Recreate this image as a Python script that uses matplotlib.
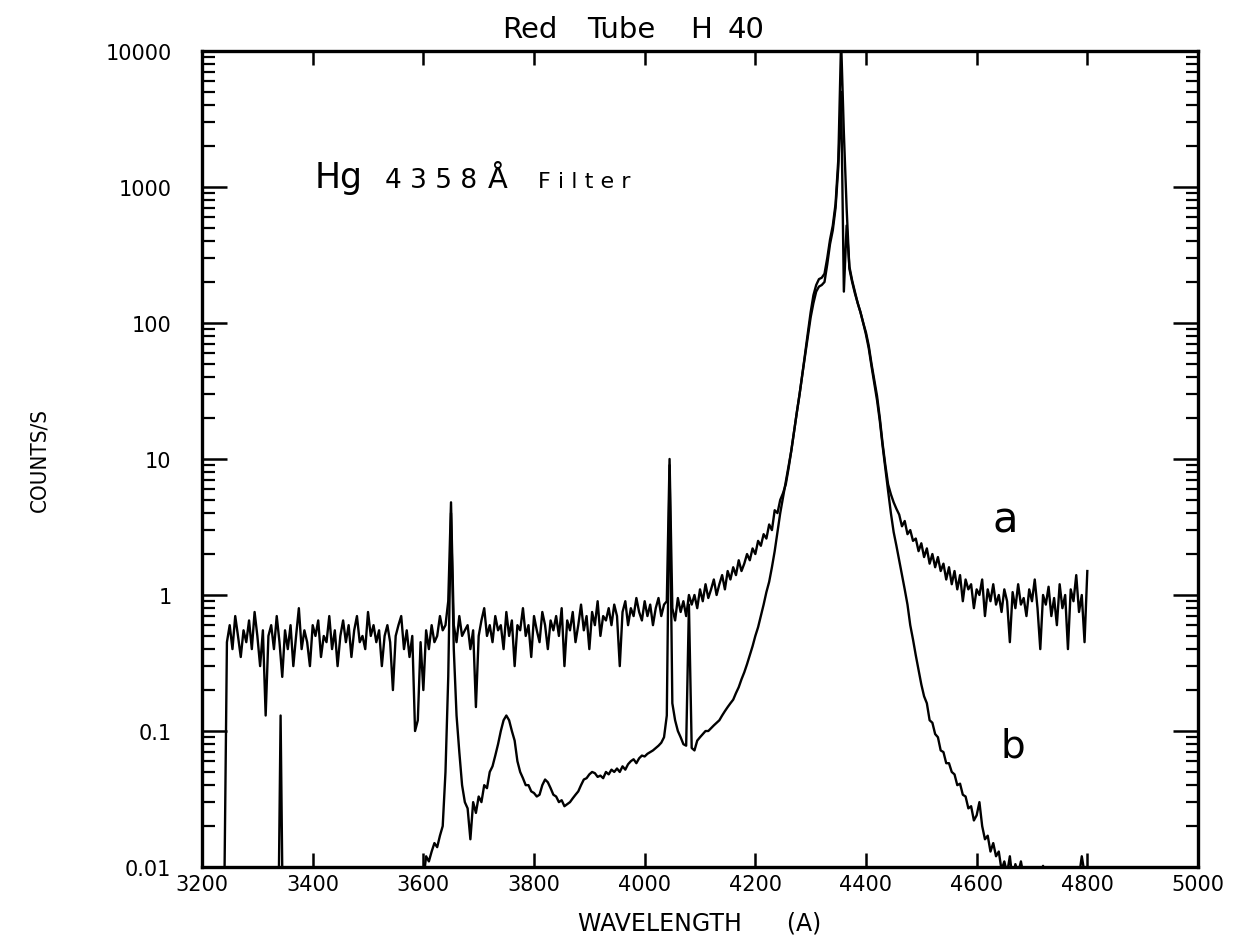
import numpy as np
import matplotlib
matplotlib.use("Agg")
import matplotlib.pyplot as plt
from matplotlib.ticker import FixedLocator, NullFormatter, LogLocator

# ---- data ----
# curve a: 5 A grid from 3240 to 4800
a_wl = np.arange(3240, 4801, 5)
a_counts = [
    0.005, 0.45, 0.6, 0.4, 0.7, 0.5, 0.35, 0.55, 0.45, 0.65,
    0.4, 0.75, 0.5, 0.3, 0.55, 0.13, 0.5, 0.6, 0.4, 0.7,
    0.45, 0.25, 0.55, 0.4, 0.6, 0.3, 0.5, 0.8, 0.4, 0.55,
    0.45, 0.3, 0.6, 0.5, 0.65, 0.35, 0.5, 0.45, 0.7, 0.4,
    0.55, 0.3, 0.5, 0.65, 0.45, 0.6, 0.35, 0.55, 0.7, 0.45,
    0.5, 0.4, 0.75, 0.5, 0.6, 0.45, 0.55, 0.3, 0.5, 0.6,
    0.45, 0.2, 0.5, 0.6, 0.7, 0.4, 0.55, 0.35, 0.5, 0.1,
    0.12, 0.45, 0.2, 0.55, 0.4, 0.6, 0.45, 0.5, 0.7, 0.55,
    0.6, 0.9, 4.8, 0.6, 0.45, 0.7, 0.5, 0.55, 0.6, 0.4,
    0.55, 0.15, 0.5, 0.65, 0.8, 0.5, 0.6, 0.45, 0.7, 0.55,
    0.6, 0.4, 0.75, 0.5, 0.65, 0.3, 0.6, 0.55, 0.8, 0.5,
    0.6, 0.35, 0.7, 0.55, 0.45, 0.75, 0.6, 0.4, 0.65, 0.55,
    0.7, 0.5, 0.8, 0.3, 0.65, 0.55, 0.75, 0.45, 0.6, 0.85,
    0.55, 0.7, 0.4, 0.75, 0.6, 0.9, 0.5, 0.7, 0.65, 0.8,
    0.6, 0.85, 0.7, 0.3, 0.75, 0.9, 0.6, 0.8, 0.7, 0.95,
    0.75, 0.65, 0.9, 0.7, 0.85, 0.6, 0.8, 0.95, 0.7, 0.85,
    0.9, 10.0, 0.8, 0.65, 0.95, 0.75, 0.9, 0.7, 1.0, 0.85,
    1.0, 0.8, 1.1, 0.9, 1.2, 0.95, 1.1, 1.3, 1.0, 1.2,
    1.4, 1.1, 1.5, 1.3, 1.6, 1.4, 1.8, 1.5, 1.7, 2.0,
    1.8, 2.2, 2.0, 2.5, 2.3, 2.8, 2.6, 3.3, 3.0, 4.2,
    4.0, 5.0, 5.6, 6.5, 8.5, 11.5, 16, 22, 30, 42,
    60, 85, 120, 160, 190, 210, 215, 230, 300, 410,
    520, 750, 1600, 12000, 2500, 700, 250, 200, 165, 140,
    120, 100, 85, 68, 50, 38, 29, 20, 13, 9,
    6.5, 5.5, 4.8, 4.3, 3.9, 3.2, 3.5, 2.8, 3.0, 2.5,
    2.6, 2.1, 2.4, 1.9, 2.2, 1.7, 2.0, 1.6, 1.9, 1.5,
    1.7, 1.3, 1.6, 1.2, 1.5, 1.1, 1.4, 0.9, 1.3, 1.1,
    1.2, 0.8, 1.1, 1.0, 1.3, 0.7, 1.1, 0.9, 1.2, 0.85,
    1.0, 0.75, 1.1, 0.9, 0.45, 1.05, 0.8, 1.2, 0.85, 0.95,
    0.7, 1.1, 0.9, 1.3, 0.8, 0.4, 1.0, 0.85, 1.15, 0.7,
    0.95, 0.6, 1.2, 0.8, 1.0, 0.4, 1.1, 0.9, 1.4, 0.75,
    1.0, 0.45, 1.5,
]

# curve b: low part (mostly below the axis) plus 5 A grid from 3600 to 4800
b_low_wl = [3240, 3338, 3342, 3346, 3595]
b_low_counts = [0.004, 0.004, 0.13, 0.004, 0.004]
b_wl = np.arange(3600, 4801, 5)
b_counts = [
    0.008, 0.012, 0.011, 0.013, 0.015, 0.014, 0.017, 0.02, 0.05, 0.25,
    4.0, 0.4, 0.13, 0.07, 0.04, 0.03, 0.027, 0.016, 0.03, 0.025,
    0.033, 0.03, 0.04, 0.038, 0.05, 0.055, 0.066, 0.08, 0.1, 0.12,
    0.13, 0.12, 0.1, 0.085, 0.06, 0.05, 0.045, 0.04, 0.04, 0.036,
    0.035, 0.033, 0.034, 0.04, 0.044, 0.042, 0.038, 0.034, 0.033, 0.03,
    0.031, 0.028, 0.029, 0.03, 0.032, 0.034, 0.036, 0.04, 0.044, 0.045,
    0.048, 0.05, 0.049, 0.046, 0.047, 0.045, 0.05, 0.048, 0.052, 0.05,
    0.053, 0.05, 0.055, 0.052, 0.057, 0.06, 0.062, 0.058, 0.063, 0.066,
    0.065, 0.068, 0.07, 0.072, 0.075, 0.078, 0.082, 0.09, 0.13, 9.0,
    0.16, 0.12, 0.1, 0.09, 0.08, 0.078, 0.85, 0.075, 0.072, 0.085,
    0.09, 0.095, 0.1, 0.1, 0.105, 0.11, 0.115, 0.12, 0.13, 0.14,
    0.15, 0.16, 0.17, 0.19, 0.21, 0.24, 0.27, 0.31, 0.36, 0.42,
    0.5, 0.58, 0.7, 0.85, 1.05, 1.25, 1.6, 2.1, 2.9, 4.0,
    5.2, 6.8, 8.8, 11.5, 16, 22, 30, 42, 58, 80,
    110, 140, 170, 185, 190, 200, 270, 380, 480, 700,
    1400, 5000, 170, 520, 260, 205, 170, 140, 120, 100,
    82, 65, 48, 36, 27, 19, 12.5, 8.5, 5.8, 4.0,
    2.9, 2.3, 1.8, 1.4, 1.1, 0.85, 0.6, 0.47, 0.36, 0.28,
    0.22, 0.18, 0.16, 0.12, 0.115, 0.095, 0.09, 0.072, 0.07, 0.058,
    0.058, 0.05, 0.048, 0.04, 0.041, 0.034, 0.033, 0.027, 0.028, 0.022,
    0.024, 0.03, 0.02, 0.016, 0.017, 0.013, 0.015, 0.012, 0.013, 0.0095,
    0.011, 0.009, 0.012, 0.008, 0.0105, 0.009, 0.011, 0.0085, 0.0095, 0.008,
    0.0098, 0.008, 0.009, 0.0085, 0.0102, 0.008, 0.0088, 0.0082, 0.0095, 0.008,
    0.0088, 0.008, 0.0092, 0.0085, 0.008, 0.0095, 0.008, 0.0085, 0.012, 0.009,
    0.008,
]

x_ticks = [3200, 3400, 3600, 3800, 4000, 4200, 4400, 4600, 4800, 5000]
y_ticks = [0.01, 0.1, 1, 10, 100, 1000, 10000]
y_tick_labels = ["0.01", "0.1", "1", "10", "100", "1000", "10000"]

# handwritten title words and their left edges (figure fraction)
title_words = ["Red", "Tube", "H", "40"]
title_x = [0.404, 0.472, 0.555, 0.585]

# ---- plot ----
fig = plt.figure(figsize=(12.44, 9.37), dpi=100)
ax = fig.add_axes([0.1624, 0.0736, 0.8006, 0.871])

ax.plot(a_wl, a_counts, color="black", lw=1.7)
ax.plot(np.concatenate([b_low_wl, b_wl]), np.concatenate([b_low_counts, b_counts]),
        color="black", lw=1.7)

ax.set_yscale("log")
ax.set_xlim(3200, 5000)
ax.set_ylim(0.01, 10000)

ax.set_xticks(x_ticks)
ax.set_xticklabels([str(t) for t in x_ticks])
ax.yaxis.set_major_locator(FixedLocator(y_ticks))
ax.set_yticklabels(y_tick_labels)
ax.yaxis.set_minor_locator(LogLocator(base=10, subs=np.arange(2, 10)))
ax.yaxis.set_minor_formatter(NullFormatter())

ax.tick_params(axis="both", which="major", direction="in", top=True, right=True,
               labelsize=15, width=1.8)
ax.tick_params(axis="x", which="major", length=10, pad=5)
ax.tick_params(axis="y", which="major", length=18, pad=22)
ax.tick_params(axis="y", which="minor", direction="in", right=True, length=9, width=1.6)
for s in ax.spines.values():
    s.set_linewidth(2.4)

ax.set_xlabel("WAVELENGTH      (A)", fontsize=17, labelpad=12)
ax.set_ylabel("COUNTS/S", fontsize=16, labelpad=40, fontstretch="condensed")

for word, xw in zip(title_words, title_x):
    fig.text(xw, 0.9594, word, fontsize=21, ha="left", va="baseline")

ax.text(3404, 1000, "Hg", fontsize=25, ha="left", va="baseline")
ax.text(3531, 1000, "4 3 5 8", fontsize=19, ha="left", va="baseline")
ax.text(3717, 1000, "Å", fontsize=21, ha="left", va="baseline")
ax.text(3807, 1000, "F i l t e r", fontsize=16, ha="left", va="baseline")
ax.text(4651, 3.6, "a", fontsize=30, ha="center", va="center")
ax.text(4665, 0.078, "b", fontsize=28, ha="center", va="center")

fig.savefig("out.png", dpi=100)
